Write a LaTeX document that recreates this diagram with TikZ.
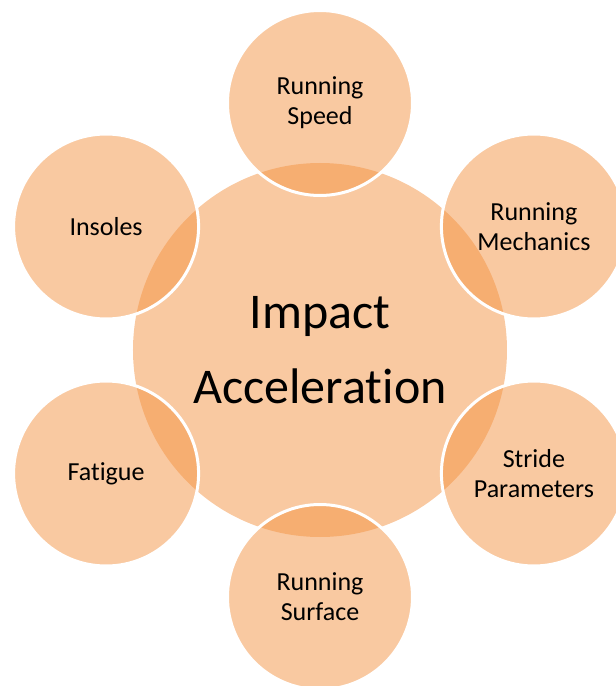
\documentclass[tikz,border=0pt]{standalone}
\usepackage{fontspec}
\setmainfont{Carlito}[Ligatures=NoCommon]
\usetikzlibrary{calc}
\definecolor{peach}{RGB}{243,147,67}
\newcommand{\factor}[3]{\node[factor] (#1) at ($(impact)+(#3:247)$) {#2};}

\begin{document}
\begin{tikzpicture}[x=1pt, y=1pt,
  hub/.style={circle, fill=peach, fill opacity=0.5, text opacity=1, minimum size=374pt, inner sep=0pt, align=center, font=\fontsize{50}{75}\selectfont},
  factor/.style={circle, fill=peach, fill opacity=0.5, text opacity=1, draw=white, draw opacity=1, line width=3pt, minimum size=185pt, inner sep=0pt, align=center, font=\fontsize{26}{30}\selectfont}]
\useasboundingbox (-320,-336) rectangle (296,350);

\node[hub] (impact) at (0,0) {Impact\\Acceleration};

\factor{speed}{Running\\Speed}{90};
\factor{mechanics}{Running\\Mechanics}{30};
\factor{stride}{Stride\\Parameters}{-30};
\factor{surface}{Running\\Surface}{-90};
\factor{fatigue}{Fatigue}{-150};
\factor{insoles}{Insoles}{150};
\end{tikzpicture}
\end{document}
